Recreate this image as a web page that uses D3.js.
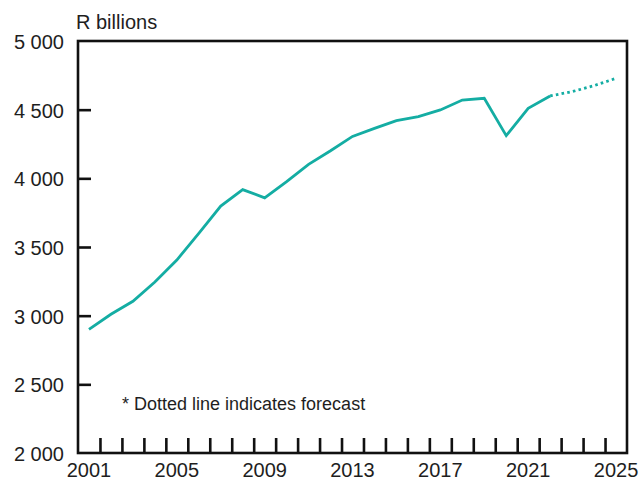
<!DOCTYPE html>
<html>
<head>
<meta charset="utf-8">
<script src="https://cdn.jsdelivr.net/npm/d3@7"></script>
<style>
  html, body { margin: 0; padding: 0; background: #fff; }
  svg { display: block; font-family: "Liberation Sans", Arial, Helvetica, sans-serif; }
</style>
</head>
<body>
<svg id="chart" width="643" height="479"></svg>
<script>
// Real GDP, R billions: history and forecast
const actualYears = [2001, 2002, 2003, 2004, 2005, 2006, 2007, 2008, 2009, 2010, 2011,
                     2012, 2013, 2014, 2015, 2016, 2017, 2018, 2019, 2020, 2021, 2022];
const actualValues = [2900, 3010, 3105, 3245, 3405, 3600, 3798, 3918, 3858, 3976, 4102,
                      4201, 4305, 4364, 4420, 4449, 4498, 4570, 4583, 4311, 4510, 4600];
const forecastYears = [2022, 2023, 2024, 2025];
const forecastValues = [4600, 4631, 4675, 4728];

const yTicks = [2000, 2500, 3000, 3500, 4000, 4500, 5000];
const xTickLabels = [2001, 2005, 2009, 2013, 2017, 2021, 2025];
const unitLabel = "R billions";
const noteText = "* Dotted line indicates forecast";

const plotLeft = 78, plotRight = 627, plotTop = 41, plotBottom = 453;
const teal = "#14ada3";
const ink = "#1e1e1e";

const svg = d3.select("#chart");

const x = d3.scaleLinear().domain([2000.5, 2025.5]).range([plotLeft, plotRight]);
const y = d3.scaleLinear().domain([2000, 5000]).range([plotBottom, plotTop]);

// year boundaries between the first and last year
const boundaries = d3.range(2001.5, 2025, 1);

// x axis: ticks pointing up into the plot at year boundaries
const xAxis = d3.axisBottom(x).tickValues(boundaries).tickSize(-15).tickFormat("");
const gx = svg.append("g").attr("transform", `translate(0,${plotBottom})`).call(xAxis);
gx.select(".domain").remove();
gx.selectAll(".tick line").attr("stroke", "#111").attr("stroke-width", 2.6);

// x labels centred on years
svg.append("g").selectAll("text").data(xTickLabels).join("text")
  .attr("x", d => x(d))
  .attr("y", 477)
  .attr("text-anchor", "middle")
  .attr("font-size", 20)
  .attr("fill", ink)
  .text(d => d);

// y axis: ticks pointing right into the plot
const yAxis = d3.axisLeft(y).tickValues(yTicks.filter(v => v > 2000 && v < 5000)).tickSize(-13).tickFormat("");
const gy = svg.append("g").attr("transform", `translate(${plotLeft},0)`).call(yAxis);
gy.select(".domain").remove();
gy.selectAll(".tick line").attr("stroke", "#111").attr("stroke-width", 2.6);

const fmt = v => d3.format(",")(v).replace(",", " ");
svg.append("g").selectAll("text").data(yTicks).join("text")
  .attr("x", 64)
  .attr("y", d => y(d) + 8)
  .attr("text-anchor", "end")
  .attr("font-size", 20)
  .attr("fill", ink)
  .text(d => fmt(d));

// frame (left, top, right, bottom)
svg.append("rect")
  .attr("x", plotLeft).attr("y", plotTop)
  .attr("width", plotRight - plotLeft).attr("height", plotBottom - plotTop)
  .attr("fill", "none").attr("stroke", "#111").attr("stroke-width", 2.6);

// unit label
svg.append("text")
  .attr("x", 76).attr("y", 29)
  .attr("font-size", 20)
  .attr("fill", ink)
  .text(unitLabel);

// note
svg.append("text")
  .attr("x", 122).attr("y", 410)
  .attr("font-size", 18)
  .attr("fill", ink)
  .text(noteText);

const line = d3.line().x(d => x(d[0])).y(d => y(d[1]));

svg.append("path")
  .datum(d3.zip(actualYears, actualValues))
  .attr("d", line)
  .attr("fill", "none")
  .attr("stroke", teal)
  .attr("stroke-width", 2.8)
  .attr("stroke-linejoin", "miter");

svg.append("path")
  .datum(d3.zip(forecastYears, forecastValues))
  .attr("d", line)
  .attr("fill", "none")
  .attr("stroke", teal)
  .attr("stroke-width", 2.8)
  .attr("stroke-dasharray", "2.6,3.2");
</script>
</body>
</html>
